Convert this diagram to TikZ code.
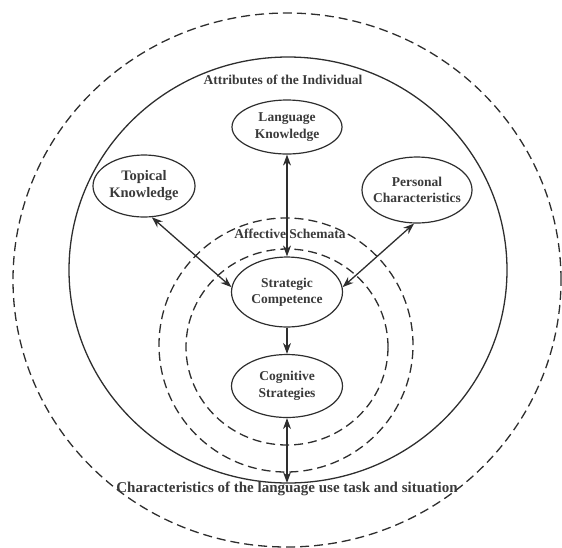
\documentclass[tikz,border=0pt]{standalone}
\usepackage{fontspec}
\setmainfont{Liberation Serif}
\usetikzlibrary{shapes.geometric,arrows.meta}
\definecolor{ink}{HTML}{2E2E2E}
\definecolor{txt}{HTML}{3A3A3A}
\begin{document}
\begin{tikzpicture}[x=1pt,y=-1pt,
  bub/.style={ellipse,draw=ink,line width=1.2pt,inner xsep=-12pt,inner ysep=-6pt,align=center,font=\fontsize{13.5}{16.5}\selectfont\bfseries,text=txt},
  lbl/.style={font=\fontsize{13.5}{16}\selectfont\bfseries,text=txt,inner sep=0pt},
  solidring/.style={draw=ink,line width=1.3pt},
  dashring/.style={draw=ink,line width=1.3pt,dash pattern=on 9pt off 5pt},
  arr/.style={draw=ink,line width=1.3pt,-{Stealth[length=11pt,width=8pt]}},
  darr/.style={draw=ink,line width=1.3pt,{Stealth[length=11pt,width=8pt]}-{Stealth[length=11pt,width=8pt]}}]
\useasboundingbox (0,0) rectangle (562,547);
% rings
\draw[dashring] (287,280) ellipse [x radius=274pt, y radius=267pt];
\draw[solidring] (288,270) ellipse [x radius=219pt, y radius=213pt];
\draw[dashring] (286,345) ellipse [x radius=127pt, y radius=127pt];
\draw[dashring] (287,347) ellipse [x radius=101pt, y radius=98pt];
% nodes
\node[bub,minimum width=110pt,minimum height=54pt] (lang) at (287,127) {Language\\Knowledge};
\node[bub,minimum width=102pt,minimum height=62pt,font=\fontsize{14.5}{17}\selectfont\bfseries] (topic) at (144,186) {Topical\\Knowledge};
\node[bub,minimum width=110pt,minimum height=66pt] (pers) at (417,190) {Personal\\Characteristics};
\node[bub,minimum width=111pt,minimum height=70pt] (strat) at (287,292) {Strategic\\Competence};
\node[bub,minimum width=111pt,minimum height=63pt] (cogn) at (287,386) {Cognitive\\Strategies};
\coordinate (bot) at (287,483);
% labels
\node[lbl] (attr) at (283,80) {Attributes of the Individual};
\node[lbl] (aff) at (290,234) {Affective Schemata};
\node[lbl,font=\fontsize{15}{18}\selectfont\bfseries] (chars) at (287,489) {Characteristics of the language use task and situation};
% connectors
\draw[darr] (lang.south) -- (strat.north);
\draw[darr] (topic.284) -- (strat.175);
\draw[darr] (pers.265) -- (strat.5);
\draw[arr] (strat.south) -- (cogn.north);
\draw[darr] (cogn.south) -- (bot);
\end{tikzpicture}
\end{document}
